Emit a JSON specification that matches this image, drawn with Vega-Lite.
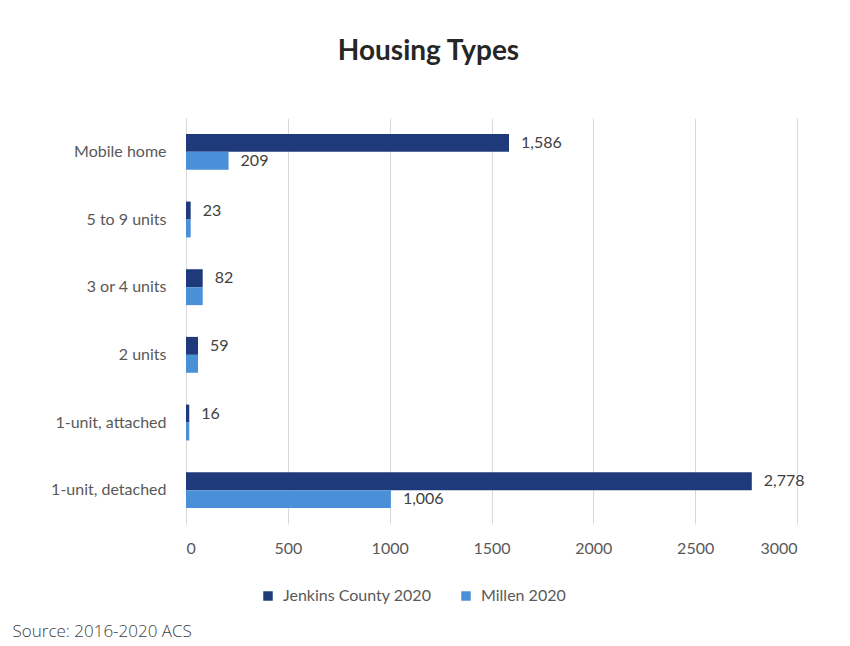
{
  "$schema": "https://vega.github.io/schema/vega-lite/v6.json",
  "width": 611,
  "height": 406,
  "autosize": {"type": "none"},
  "padding": {"left": 186, "top": 118, "right": 53, "bottom": 122},
  "background": "white",
  "config": {"view": {"stroke": null}},
  "title": {
    "text": "Housing Types",
    "font": "Lato",
    "fontSize": 28,
    "fontWeight": "bold",
    "color": "#262626",
    "anchor": "middle",
    "dx": -63,
    "offset": 52
  },
  "data": {
    "values": [
      {"type": "Mobile home", "series": "Jenkins County 2020", "value": 1586, "label": "1,586"},
      {"type": "Mobile home", "series": "Millen 2020", "value": 209, "label": "209"},
      {"type": "5 to 9 units", "series": "Jenkins County 2020", "value": 23, "label": "23"},
      {"type": "5 to 9 units", "series": "Millen 2020", "value": 23, "label": ""},
      {"type": "3 or 4 units", "series": "Jenkins County 2020", "value": 82, "label": "82"},
      {"type": "3 or 4 units", "series": "Millen 2020", "value": 82, "label": ""},
      {"type": "2 units", "series": "Jenkins County 2020", "value": 59, "label": "59"},
      {"type": "2 units", "series": "Millen 2020", "value": 59, "label": ""},
      {"type": "1-unit, attached", "series": "Jenkins County 2020", "value": 16, "label": "16"},
      {"type": "1-unit, attached", "series": "Millen 2020", "value": 16, "label": ""},
      {"type": "1-unit, detached", "series": "Jenkins County 2020", "value": 2778, "label": "2,778"},
      {"type": "1-unit, detached", "series": "Millen 2020", "value": 1006, "label": "1,006"}
    ]
  },
  "encoding": {
    "y": {
      "field": "type",
      "type": "nominal",
      "sort": ["Mobile home", "5 to 9 units", "3 or 4 units", "2 units", "1-unit, attached", "1-unit, detached"],
      "scale": {"paddingInner": 0.47, "paddingOuter": 0.235},
      "axis": {
        "title": null,
        "ticks": false,
        "domain": true,
        "domainColor": "#d9d9d9",
        "labelFont": "Lato",
        "labelFontSize": 16,
        "labelColor": "#595959",
        "labelPadding": 20
      }
    },
    "yOffset": {
      "field": "series",
      "type": "nominal",
      "sort": ["Jenkins County 2020", "Millen 2020"],
      "scale": {"paddingInner": 0, "paddingOuter": 0}
    },
    "x": {
      "field": "value",
      "type": "quantitative",
      "scale": {"domain": [0, 3000], "nice": false},
      "axis": {
        "values": [0, 500, 1000, 1500, 2000, 2500, 3000],
        "format": "d",
        "grid": true,
        "gridColor": "#d9d9d9",
        "gridWidth": 1,
        "domain": false,
        "ticks": false,
        "labelFont": "Lato",
        "labelFontSize": 16,
        "labelColor": "#595959",
        "labelPadding": 16,
        "title": "Source: 2016-2020 ACS",
        "titleFont": "Open Sans",
        "titleFontWeight": 300,
        "titleFontSize": 17,
        "titleColor": "#404040",
        "titleAlign": "left",
        "titleAnchor": "start",
        "titleBaseline": "alphabetic",
        "titleX": -174,
        "titleY": 112
      }
    }
  },
  "layer": [
    {
      "mark": {"type": "bar"},
      "encoding": {
        "color": {
          "field": "series",
          "type": "nominal",
          "sort": ["Jenkins County 2020", "Millen 2020"],
          "scale": {"domain": ["Jenkins County 2020", "Millen 2020"], "range": ["#1f3a7a", "#4a90d9"]},
          "legend": {
            "title": null,
            "orient": "none",
            "direction": "horizontal",
            "legendX": 74,
            "legendY": 470,
            "symbolType": "square",
            "symbolSize": 90,
            "symbolStrokeWidth": 0,
            "labelFont": "Lato",
            "labelFontSize": 16,
            "labelColor": "#595959",
            "columnPadding": 26,
            "labelOffset": 7
          }
        }
      }
    },
    {
      "transform": [{"filter": "datum.label != ''"}],
      "mark": {"type": "text", "align": "left", "baseline": "middle", "dx": 12, "font": "Lato", "fontSize": 16, "color": "#404040"},
      "encoding": {
        "text": {"field": "label", "type": "nominal"}
      }
    }
  ]
}
